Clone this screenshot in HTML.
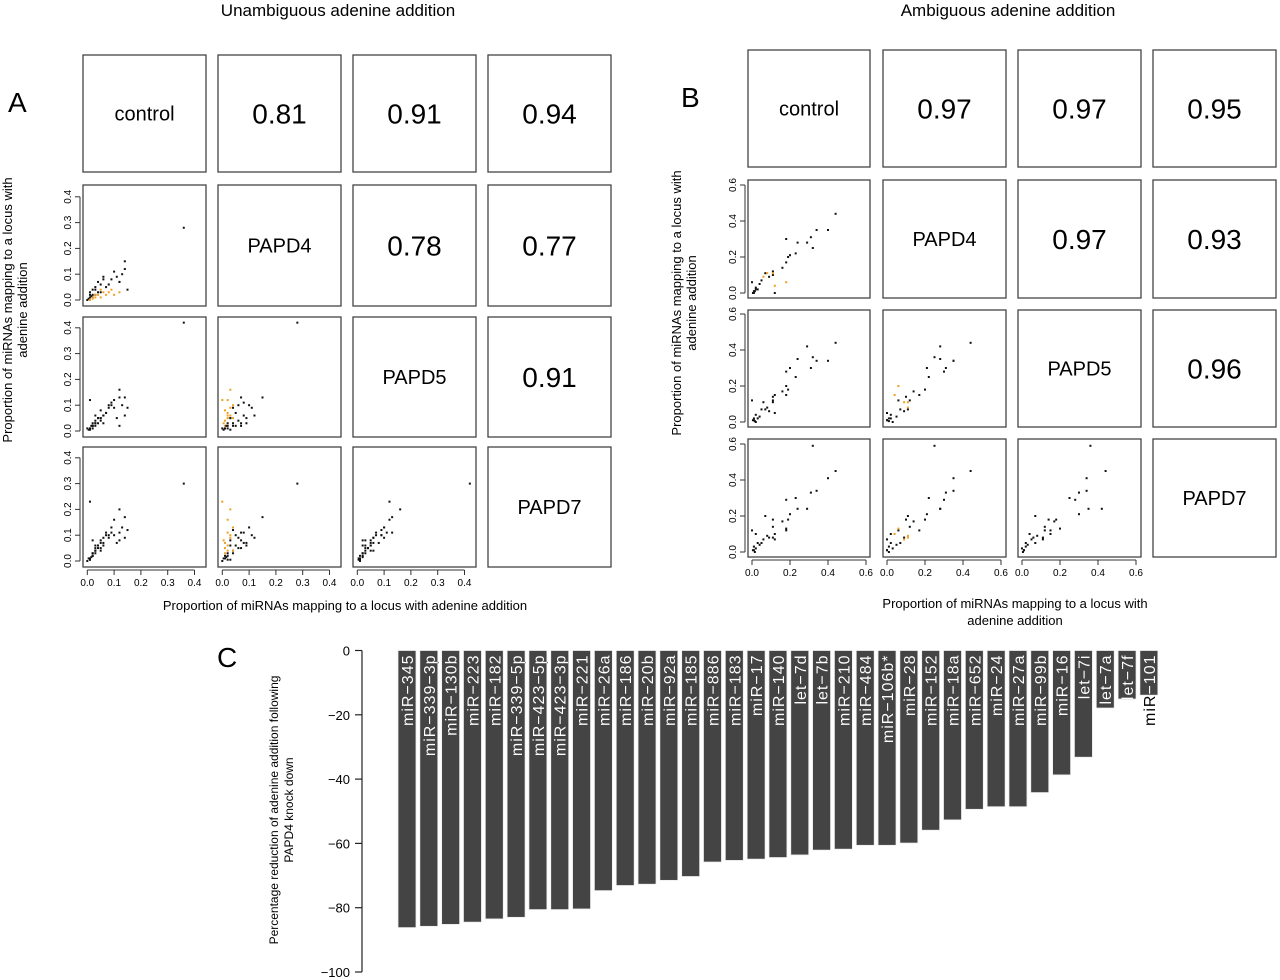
<!DOCTYPE html>
<html><head><meta charset="utf-8"><style>
html,body{margin:0;padding:0;background:#fff;}
svg{display:block;font-family:"Liberation Sans",Arial,sans-serif;}
</style></head><body>
<svg id="fig" width="1280" height="980" viewBox="0 0 1280 980" xmlns="http://www.w3.org/2000/svg">
<text x="338" y="16" font-size="17" text-anchor="middle">Unambiguous adenine addition</text>
<text x="1008" y="16" font-size="17" text-anchor="middle">Ambiguous adenine addition</text>
<text x="8" y="112" font-size="28">A</text>
<text x="681" y="107" font-size="28">B</text>
<text x="217" y="667" font-size="28">C</text>
<g font-size="13" text-anchor="middle">
<text transform="translate(12,310) rotate(-90)">Proportion of miRNAs mapping to a locus with</text>
<text transform="translate(27,310) rotate(-90)">adenine addition</text>
</g>
<text x="345" y="610" font-size="13" text-anchor="middle">Proportion of miRNAs mapping to a locus with adenine addition</text>
<g font-size="13" text-anchor="middle">
<text transform="translate(681,303) rotate(-90)">Proportion of miRNAs mapping to a locus with</text>
<text transform="translate(696,303) rotate(-90)">adenine addition</text>
</g>
<g font-size="13" text-anchor="middle">
<text x="1015" y="608">Proportion of miRNAs mapping to a locus with</text>
<text x="1015" y="625">adenine addition</text>
</g>
<g font-size="12" text-anchor="middle">
<text transform="translate(278,810) rotate(-90)">Percentage reduction of adenine addition following</text>
<text transform="translate(293,810) rotate(-90)">PAPD4 knock down</text>
</g>
</svg>
<script>
// ---- Panel A data (per miRNA: control, PAPD4, PAPD5, PAPD7) ----
const aControl=[.36,.14,.13,.12,.10,.09,.15,.08,.07,.06,.05,.05,.04,.03,.03,.02,.02,.01,.005,.01,.12,.10,.09,.08,.07,.06,.05,.04,.03,.02,.11,.12,.04,.06,.02,.015,.01,.03,.14,0,.05,.03,.02,.01];
const aPAPD4=[.28,.15,.10,.07,.11,.08,.04,.06,.05,.08,.03,.06,.03,.04,.02,.02,.01,.01,.005,.02,.03,.02,.04,.03,.02,.03,.01,.02,.01,.01,.09,.07,.07,.09,.04,.015,.03,.05,.12,0,.04,.02,.005,0];
const aPAPD5=[.42,.13,.10,.13,.09,.11,.09,.10,.07,.06,.05,.04,.05,.03,.03,.02,.01,.01,.005,.01,.16,.12,.10,.09,.07,.06,.08,.05,.04,.02,.05,.02,.03,.03,.02,.02,.005,.02,.06,.01,.05,.06,.03,.12];
const aPAPD7=[.30,.17,.13,.11,.10,.11,.12,.09,.10,.07,.08,.05,.06,.04,.03,.02,.02,.01,.01,.005,.20,.16,.13,.10,.11,.09,.07,.06,.05,.03,.07,.08,.05,.06,.03,.015,.005,.06,.09,0,.04,.04,.08,.23];
const aOrange=[0,0,0,0,0,0,0,0,0,0,0,0,0,0,0,0,0,0,0,0,1,1,1,1,1,1,1,1,1,1,0,0,0,0,0,0,0,0,0,0,1,1,1,1];
const aCorr=["0.81","0.91","0.94","0.78","0.77","0.91"];
const aTicks=["0.0","0.1","0.2","0.3","0.4"];
// ---- Panel B data ----
const bControl=[.44,.32,.40,.34,.29,.31,.24,.23,.18,.20,.19,.16,.18,.11,.11,.07,.09,.05,.04,0,.02,.01,.005,.02,.03,.12,.08,.12,.18,.11,.06,.01,.015];
const bPAPD4=[.44,.25,.35,.35,.28,.31,.28,.22,.30,.21,.20,.14,.17,.10,.12,.11,.09,.07,.05,.06,.02,.01,0,.03,.02,0,.11,.04,.06,.11,.09,0,.01];
const bPAPD5=[.44,.36,.34,.34,.42,.30,.35,.25,.28,.30,.18,.17,.15,.14,.12,.07,.06,.07,.03,.12,.04,.02,.01,0,.02,.05,.08,.15,.20,.11,.11,.01,.005];
const bPAPD7=[.45,.59,.41,.34,.24,.33,.24,.30,.29,.21,.18,.17,.12,.18,.14,.20,.08,.05,.04,.12,.10,.03,.01,.02,.05,.07,.09,.10,.13,.08,.07,.01,0];
const bOrange=[0,0,0,0,0,0,0,0,0,0,0,0,0,0,0,0,0,0,0,0,0,0,0,0,0,0,1,1,1,1,1,0,0];
const bCorr=["0.97","0.97","0.95","0.97","0.93","0.96"];
const bTicks=["0.0","0.2","0.4","0.6"];
const condNames=["control","PAPD4","PAPD5","PAPD7"];
// ---- Panel C data ----
const cLabels=["miR\u2212345","miR\u2212339\u22123p","miR\u2212130b","miR\u2212223","miR\u2212182","miR\u2212339\u22125p","miR\u2212423\u22125p","miR\u2212423\u22123p","miR\u2212221","miR\u221226a","miR\u2212186","miR\u221220b","miR\u221292a","miR\u2212185","miR\u2212886","miR\u2212183","miR\u221217","miR\u2212140","let\u22127d","let\u22127b","miR\u2212210","miR\u2212484","miR\u2212106b*","miR\u221228","miR\u2212152","miR\u221218a","miR\u2212652","miR\u221224","miR\u221227a","miR\u221299b","miR\u221216","let\u22127i","let\u22127a","let\u22127f","miR\u2212101"];
const cValues=[-86.2,-85.8,-85.2,-84.5,-83.5,-83.0,-80.6,-80.6,-80.4,-74.7,-73.1,-72.7,-71.5,-70.3,-65.8,-65.3,-64.9,-64.4,-63.6,-62.1,-61.8,-60.6,-60.6,-59.9,-55.9,-52.7,-49.4,-48.6,-48.6,-44.2,-38.7,-33.2,-17.9,-15.1,-13.9];
const cTicks=[0,-20,-40,-60,-80,-100];

const NS="http://www.w3.org/2000/svg";
const svg=document.getElementById('fig');
function mk(tag,attrs,parent){const e=document.createElementNS(NS,tag);for(const k in attrs)e.setAttribute(k,attrs[k]);(parent||svg).appendChild(e);return e;}

function drawPairs(p){
  const g=mk('g',{});
  
  
  const data=p.data;
  for(let i=0;i<4;i++){for(let j=0;j<4;j++){
    const x0=p.cols[j][0],x1=p.cols[j][1],y0=p.rows[i][0],y1=p.rows[i][1];
    const box=mk('rect',{x:x0,y:y0,width:x1-x0,height:y1-y0,fill:'#fff',stroke:'#444','stroke-width':1.3},g);
    
    
    const cx=(x0+x1)/2,cy=(y0+y1)/2;
    if(i===j){
      const t=mk('text',{x:cx,y:cy+7,'font-size':20,'text-anchor':'middle'},g);t.textContent=condNames[i];
      
      
    } else if(j>i){
      const k=(i===0?j-1:(i===1?j+1:5));
      const t=mk('text',{x:cx,y:cy+10,'font-size':28,'text-anchor':'middle'},g);t.textContent=p.corr[k];
      
      
    } else {
      const sx=v=>x0+p.xoff+v*p.xs, sy=v=>y1-p.yoff-v*p.ys;
      const involves4=(i===1||j===1);
      const xs=data[j],ys=data[i];
      for(let n=0;n<xs.length;n++){
        const orange=involves4&&p.orange[n];
        const d=mk('rect',{x:sx(xs[n])-1,y:sy(ys[n])-1,width:2,height:2,fill:orange?'#f0a020':'#111'},g);
        
        
      }
      if(j===0){
        const ax=x0-3;
        mk('line',{x1:ax,x2:ax,y1:sy(0),y2:sy(p.tmax),stroke:'#333'},g);
        p.ticks.forEach((lab,ti)=>{const v=ti*p.tstep;const y=sy(v);
          mk('line',{x1:ax-5,x2:ax,y1:y,y2:y,stroke:'#333'},g);
          const t=mk('text',{transform:`translate(${ax-9},${y}) rotate(-90)`,'font-size':10,'text-anchor':'middle'},g);t.textContent=lab;
          
          });
      }
      if(i===3){
        const ay=y1+3;
        mk('line',{x1:sx(0),x2:sx(p.tmax),y1:ay,y2:ay,stroke:'#333'},g);
        p.ticks.forEach((lab,ti)=>{const v=ti*p.tstep;const x=sx(v);
          mk('line',{x1:x,x2:x,y1:ay,y2:ay+5,stroke:'#333'},g);
          const t=mk('text',{x:x,y:ay+16,'font-size':10,'text-anchor':'middle'},g);t.textContent=lab;
          
          });
      }
    }
  }}
}
drawPairs({name:'panel-a-pairs',data:[aControl,aPAPD4,aPAPD5,aPAPD7],orange:aOrange,corr:aCorr,ticks:aTicks,tstep:0.1,tmax:0.4,
  cols:[[83,206],[218,341],[353,476],[488,611]],rows:[[55,172],[185,306],[317,437],[447,567]],xoff:4.3,xs:268,yoff:6,ys:258});
drawPairs({name:'panel-b-pairs',data:[bControl,bPAPD4,bPAPD5,bPAPD7],orange:bOrange,corr:bCorr,ticks:bTicks,tstep:0.2,tmax:0.6,
  cols:[[748,870],[883,1006],[1018,1141],[1153,1276]],rows:[[50,167],[180,298],[310,427],[439,557]],xoff:4,xs:190,yoff:5,ys:180});

// ---- Panel C bar chart ----
(function(){
  const g=mk('g',{});
  
  
  const y0=650.5,ppu=3.215,axX=362,bx0=398,pitch=21.82,bw=18;
  const sy=v=>y0-v*ppu;
  mk('line',{x1:axX,x2:axX,y1:sy(0),y2:sy(-100),stroke:'#222','stroke-width':1.2},g);
  cTicks.forEach(v=>{
    mk('line',{x1:axX-7,x2:axX,y1:sy(v),y2:sy(v),stroke:'#222','stroke-width':1.2},g);
    const t=mk('text',{x:axX-12,y:sy(v)+5,'font-size':13,'text-anchor':'end'},g);t.textContent=(v<0?'\u2212':'')+Math.abs(v);
    
    
  });
  const defs=mk('defs',{},g);
  cValues.forEach((v,i)=>{
    const x=bx0+i*pitch;
    const r=mk('rect',{x:x,y:sy(0),width:bw,height:sy(v)-sy(0),fill:'#444',stroke:'#eee','stroke-width':0.8},g);
    
    
    const cp=mk('clipPath',{id:'cp'+i},defs);
    mk('rect',{x:x,y:sy(0),width:bw,height:sy(v)-sy(0)},cp);
    const tx=x+bw/2+6, ty=sy(0)+4;
    const t1=mk('text',{transform:`translate(${tx},${ty}) rotate(-90)`,'font-size':16,'letter-spacing':'1','text-anchor':'end',fill:'#000'},g);t1.textContent=cLabels[i];
    
    
    const cg=mk('g',{'clip-path':`url(#cp${i})`},g);
    const t2=mk('text',{transform:`translate(${tx},${ty}) rotate(-90)`,'font-size':16,'letter-spacing':'1','text-anchor':'end',fill:'#fff'},cg);t2.textContent=cLabels[i];
    
    
  });
})();
</script>
</body></html>
